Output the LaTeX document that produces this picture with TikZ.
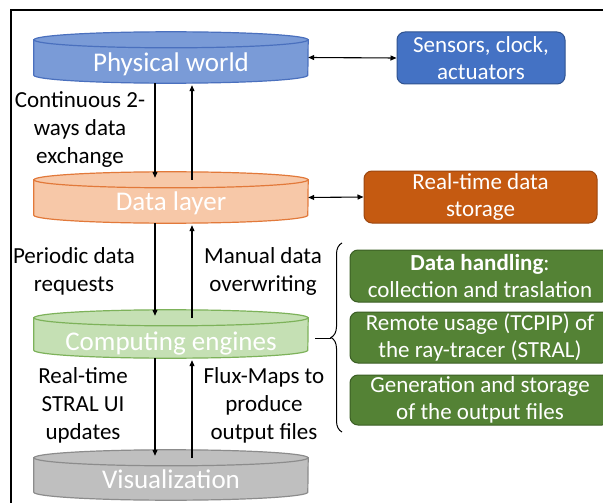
\documentclass[tikz,border=0pt]{standalone}
\usepackage{fontspec}
\setmainfont{Carlito}
\usetikzlibrary{arrows.meta,decorations.pathreplacing}
\definecolor{pwfill}{HTML}{7A9BD7}
\definecolor{pwdraw}{HTML}{4A70BE}
\definecolor{dlfill}{HTML}{F7C8A8}
\definecolor{dldraw}{HTML}{E2793A}
\definecolor{cefill}{HTML}{C5E0B4}
\definecolor{cedraw}{HTML}{7DB25A}
\definecolor{vzfill}{HTML}{BFBFBF}
\definecolor{vzdraw}{HTML}{8C8C8C}
\definecolor{bluebox}{HTML}{4472C4}
\definecolor{blueboxd}{HTML}{2F528F}
\definecolor{orangebox}{HTML}{C55A11}
\definecolor{orangeboxd}{HTML}{9C4710}
\definecolor{greenbox}{HTML}{548235}
\definecolor{greenboxd}{HTML}{3B5E24}
\newcommand\drawcyl[3]{%
  \path[fill=#2,draw=#3,line width=1.2pt] ([yshift=-8pt]#1.north west) -- ([yshift=8pt]#1.south west)
     arc[start angle=180,end angle=360,x radius=137pt,y radius=8pt] -- ([yshift=-8pt]#1.north east) -- cycle;
  \path[fill=#2,draw=#3,line width=1.2pt] ([yshift=-8pt]#1.north) ellipse[x radius=137pt,y radius=8pt];}
\begin{document}
\begin{tikzpicture}[x=1pt,y=-1pt,
  cylbox/.style={inner sep=0pt,minimum width=274pt,draw=none},
  cyltext/.style={anchor=base,text=white,font=\fontsize{27}{32}\selectfont,inner sep=0pt},
  lbl/.style={align=center,anchor=base,font=\fontsize{23}{28}\selectfont,inner sep=0pt},
  rbox/.style={rounded corners=8pt,line width=1pt,align=center,text=white,font=\fontsize{23}{27.5}\selectfont,inner sep=0pt},
  arr/.style={line width=1.1pt,-{Triangle[length=6pt,width=5pt]}},
  darr/.style={line width=1.1pt,{Triangle[length=6pt,width=5pt]}-{Triangle[length=6pt,width=5pt]}}]
\useasboundingbox (0,0) rectangle (603,503);
\clip (0,0) rectangle (603,503);
\fill[white] (0,0) rectangle (603,503);
% frame
\draw[line width=2pt] (11,503) -- (11,10) -- (603,10);
% cylinders
\node[cylbox,minimum height=51pt] (pw) at (171,57.5) {};
\node[cylbox,minimum height=51pt] (dl) at (171,197.5) {};
\node[cylbox,minimum height=48pt] (ce) at (171,334) {};
\node[cylbox,minimum height=50pt] (vz) at (171,475) {};
\drawcyl{pw}{pwfill}{pwdraw}
\drawcyl{dl}{dlfill}{dldraw}
\drawcyl{ce}{cefill}{cedraw}
\drawcyl{vz}{vzfill}{vzdraw}
\node[cyltext] (pwt) at (171,72) {Physical world};
\node[cyltext] (dlt) at (171,210) {Data layer};
\node[cyltext] (cet) at (171,350) {Computing engines};
\node[cyltext] (vzt) at (171,488) {Visualization};
% right boxes
\node[rbox,fill=bluebox,draw=blueboxd,minimum width=168pt,minimum height=52pt] (sens) at (481,58) {Sensors, clock,\\actuators};
\node[rbox,fill=orangebox,draw=orangeboxd,minimum width=233pt,minimum height=52pt] (stor) at (480.5,197) {Real-time data\\storage};
\node[rbox,fill=greenbox,draw=greenboxd,minimum width=260pt,minimum height=52pt] (g1) at (480,276) {\textbf{Data handling}:\\collection and traslation};
\node[rbox,fill=greenbox,draw=greenboxd,minimum width=260pt,minimum height=51pt] (g2) at (480,337.5) {Remote usage (TCPIP) of\\the ray-tracer (STRAL)};
\node[rbox,fill=greenbox,draw=greenboxd,minimum width=260pt,minimum height=50pt] (g3) at (480,400) {Generation and storage\\of the output files};
% labels (base = baseline of last line)
\node[lbl] (l1) at (80,163) {Continuous 2-\\ways data\\exchange};
\node[lbl] (l2) at (74,291) {Periodic data\\requests};
\node[lbl] (l3) at (263,291) {Manual data\\overwriting};
\node[lbl] (l4) at (83,439) {Real-time\\STRAL UI\\updates};
\node[lbl] (l5) at (264,439) {Flux-Maps to\\produce\\output files};
% vertical arrows
\draw[arr] ([xshift=-16pt]pw.south) -- ([xshift=-16pt,yshift=-6pt]dl.north);
\draw[arr] ([xshift=21pt,yshift=-8pt]dl.north) -- ([xshift=21pt,yshift=-2pt]pw.south);
\draw[arr] ([xshift=-16pt]dl.south) -- ([xshift=-16pt,yshift=-6pt]ce.north);
\draw[arr] ([xshift=21pt,yshift=-8pt]ce.north) -- ([xshift=21pt,yshift=-2pt]dl.south);
\draw[arr] ([xshift=-16pt]ce.south) -- ([xshift=-16pt,yshift=-6pt]vz.north);
\draw[arr] ([xshift=21pt,yshift=-8pt]vz.north) -- ([xshift=21pt,yshift=-2pt]ce.south);
% horizontal double arrows
\draw[darr] (pw.east) -- (sens.west);
\draw[darr] (dl.east) -- (stor.west);
% brace
\draw[line width=1pt,decorate,decoration={brace,amplitude=11pt}] (342,432) -- (342,243);
\coordinate (btip) at (331,338);
\draw[line width=1pt] ([xshift=7pt]ce.east |- btip) -- (btip);
\end{tikzpicture}
\end{document}
